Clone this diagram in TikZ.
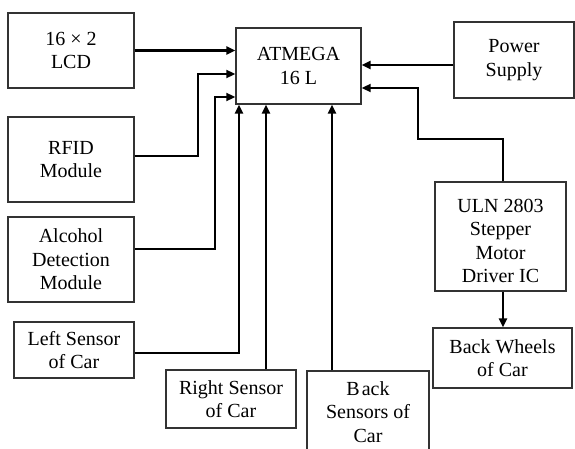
\documentclass[tikz,border=0pt]{standalone}
\usepackage{fontspec}
\setmainfont{Liberation Serif}
\newfontfamily\diafont{Liberation Serif}
\usetikzlibrary{arrows.meta}
\begin{document}
\begin{tikzpicture}[x=1pt,y=-1pt,
  box/.style={draw=black!80,line width=1.3pt,inner sep=0pt,align=center,
    font=\diafont\fontsize{20}{23.5}\selectfont},
  lbl/.style={inner sep=0pt,align=center,font=\diafont\fontsize{20}{23.5}\selectfont},
  thickarr/.style={line width=2.5pt,-{Triangle[length=9pt,width=8pt]}},
  thinarr/.style={line width=1.7pt,-{Triangle[length=9pt,width=8pt]}}]
\useasboundingbox (0,0) rectangle (575,449);
\begin{scope}
\clip (0,0) rectangle (575,449);
\node[box,minimum width=126pt,minimum height=75pt] (lcd) at (71,50.5) {16 × 2\\LCD};
\node[box,minimum width=126pt,minimum height=85pt] (rfid) at (71,159.5) {RFID\\Module};
\node[box,minimum width=126pt,minimum height=85pt] (alc) at (71,259.5) {Alcohol\\Detection\\Module};
\node[box,minimum width=120pt,minimum height=56pt] (left) at (74,350) {Left Sensor\\of Car};
\node[box,minimum width=130pt,minimum height=58pt] (right) at (231,399) {Right Sensor\\of Car};
\node[box,minimum width=122pt,minimum height=84pt] (back) at (368,413) {};
\node[lbl] (backt) at (368,412) {B\hspace{2pt}ack\\Sensors of\\Car};
\node[box,minimum width=125pt,minimum height=76pt] (atm) at (298.5,66) {ATMEGA\\16 L};
\node[box,minimum width=120pt,minimum height=76pt] (pwr) at (514,60) {Power\\Supply};
\node[box,minimum width=131pt,minimum height=109pt] (uln) at (500.5,236.5) {};
\node[lbl] (ulnt) at (500.5,241) {ULN 2803\\Stepper\\Motor\\Driver IC};
\node[box,minimum width=139pt,minimum height=60pt] (wheels) at (502.5,358) {Back Wheels\\of Car};
\end{scope}

\coordinate (r1) at (198,74);
\coordinate (a1) at (215,97);
\coordinate (lx) at (239,0);
\coordinate (rx) at (266,0);
\coordinate (bx) at (332,0);
\coordinate (u1) at (503,139);
\coordinate (u2) at (418,88);

\draw[thickarr] (lcd.east) -- (lcd.east -| atm.west);
\draw[thinarr] ([yshift=3.5pt]rfid.east) -| (r1) -- (r1 -| atm.west);
\draw[thinarr] ([yshift=10.5pt]alc.east) -| (a1) -- (a1 -| atm.west);
\draw[thickarr] ([yshift=-3pt]left.east) -| (atm.south -| lx);
\draw[thickarr] (right.north -| rx) -- (atm.south -| rx);
\draw[thickarr] (back.north -| bx) -- (atm.south -| bx);
\draw[thickarr] ([yshift=-5pt]pwr.west) -- ([yshift=-5pt]pwr.west -| atm.east);
\draw[thinarr] (uln.north -| u1) -- (u1) -| (u2) -- (u2 -| atm.east);
\draw[thickarr] (uln.south -| u1) -- (wheels.north -| u1);
\end{tikzpicture}
\end{document}
